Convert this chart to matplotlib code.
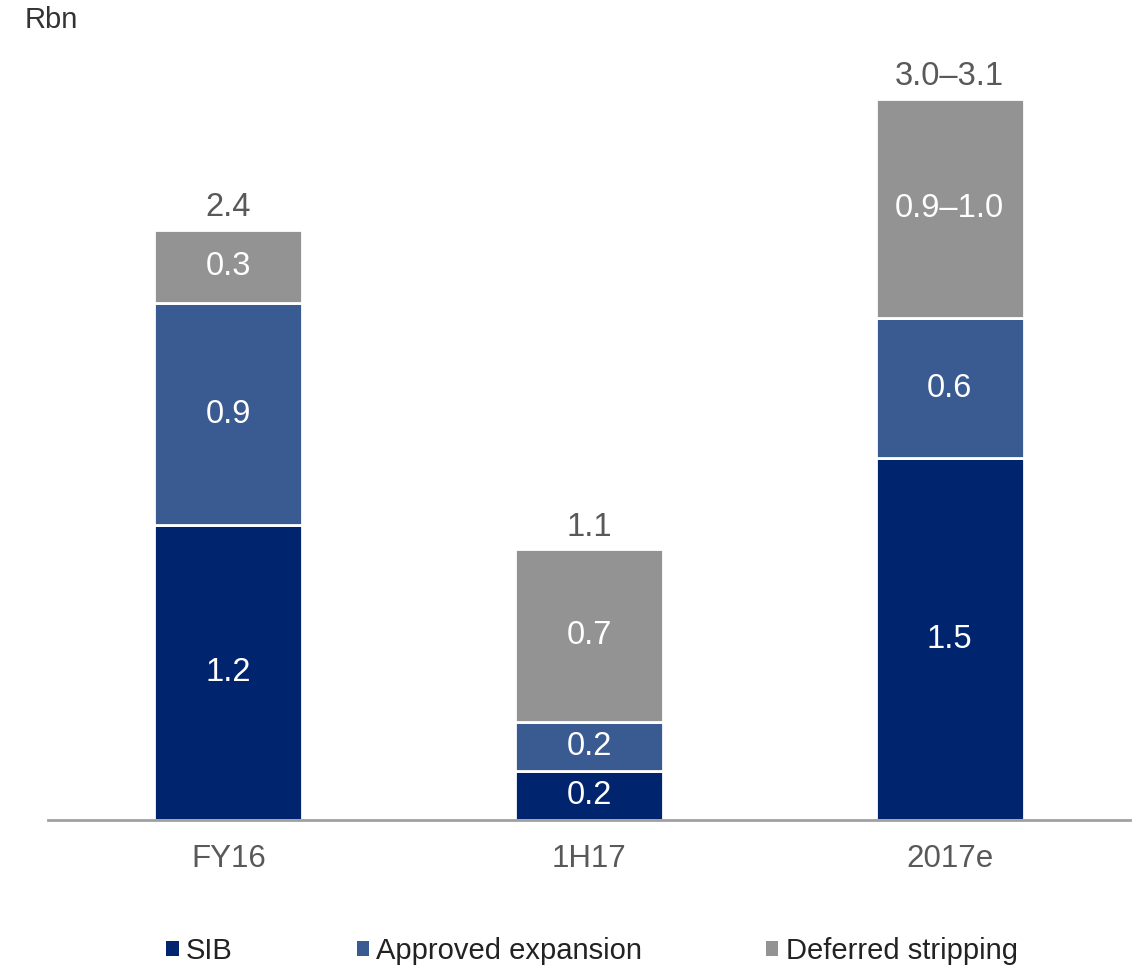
import matplotlib
matplotlib.use("Agg")
import matplotlib.pyplot as plt
from matplotlib.patches import Patch
import numpy as np

categories = ["FY16", "1H17", "2017e"]
series_names = ["SIB", "Approved expansion", "Deferred stripping"]
sib = [1.2, 0.2, 1.47]
approved = [0.9, 0.2, 0.57]
deferred = [0.3, 0.7, 0.89]
sib_labels = ["1.2", "0.2", "1.5"]
approved_labels = ["0.9", "0.2", "0.6"]
deferred_labels = ["0.3", "0.7", "0.9\u20131.0"]
total_labels = ["2.4", "1.1", "3.0\u20133.1"]
unit = "Rbn"

colors = ["#00256E", "#3A5A92", "#939393"]

plt.rcParams['font.family'] = ['Liberation Sans', 'DejaVu Sans']

W, H = 1140, 967
fig = plt.figure(figsize=(W/100, H/100), dpi=100)
ax = fig.add_axes([48/W, (H-820)/H, 1082/W, 780/H])

x = np.arange(len(categories))
bw = 0.41
fs_val = 23.5
fs_tick = 22.5

bottom = np.zeros(len(categories))
for vals, labs, col in [(sib, sib_labels, colors[0]),
                        (approved, approved_labels, colors[1]),
                        (deferred, deferred_labels, colors[2])]:
    vals = np.array(vals)
    ax.bar(x, vals, bw, bottom=bottom, color=col, edgecolor="white", linewidth=2)
    for xi, b, v, l in zip(x, bottom, vals, labs):
        ax.text(xi, b + v/2, l, ha="center", va="center", color="white", fontsize=fs_val)
    bottom = bottom + vals

for xi, t, l in zip(x, bottom, total_labels):
    ax.annotate(l, (xi, t), xytext=(0, 16), textcoords="offset points",
                ha="center", va="center", color="#595959", fontsize=fs_val)

ax.set_xlim(-0.5, 2.5)
ax.set_ylim(0, 780/246)
for s in ["top", "right", "left"]:
    ax.spines[s].set_visible(False)
ax.spines["bottom"].set_color("#A0A0A0")
ax.spines["bottom"].set_linewidth(2)
ax.set_yticks([])
ax.set_xticks(x)
ax.set_xticklabels(categories, fontsize=fs_tick, color="#595959")
ax.tick_params(axis="x", length=0, pad=17)

fig.text(25/W, 1 - 20/H, unit, ha="left", va="center", fontsize=21, color="#333333")

handles = [Patch(facecolor=c, edgecolor="none") for c in colors]
fig.legend(handles, series_names, loc="center", bbox_to_anchor=(592/W, 1 - 951/H),
           ncol=3, frameon=False, fontsize=21, handlelength=0.42, handleheight=0.42,
           handletextpad=0.25, columnspacing=4.25, labelcolor="#222222")

fig.savefig("out.png", dpi=100)
